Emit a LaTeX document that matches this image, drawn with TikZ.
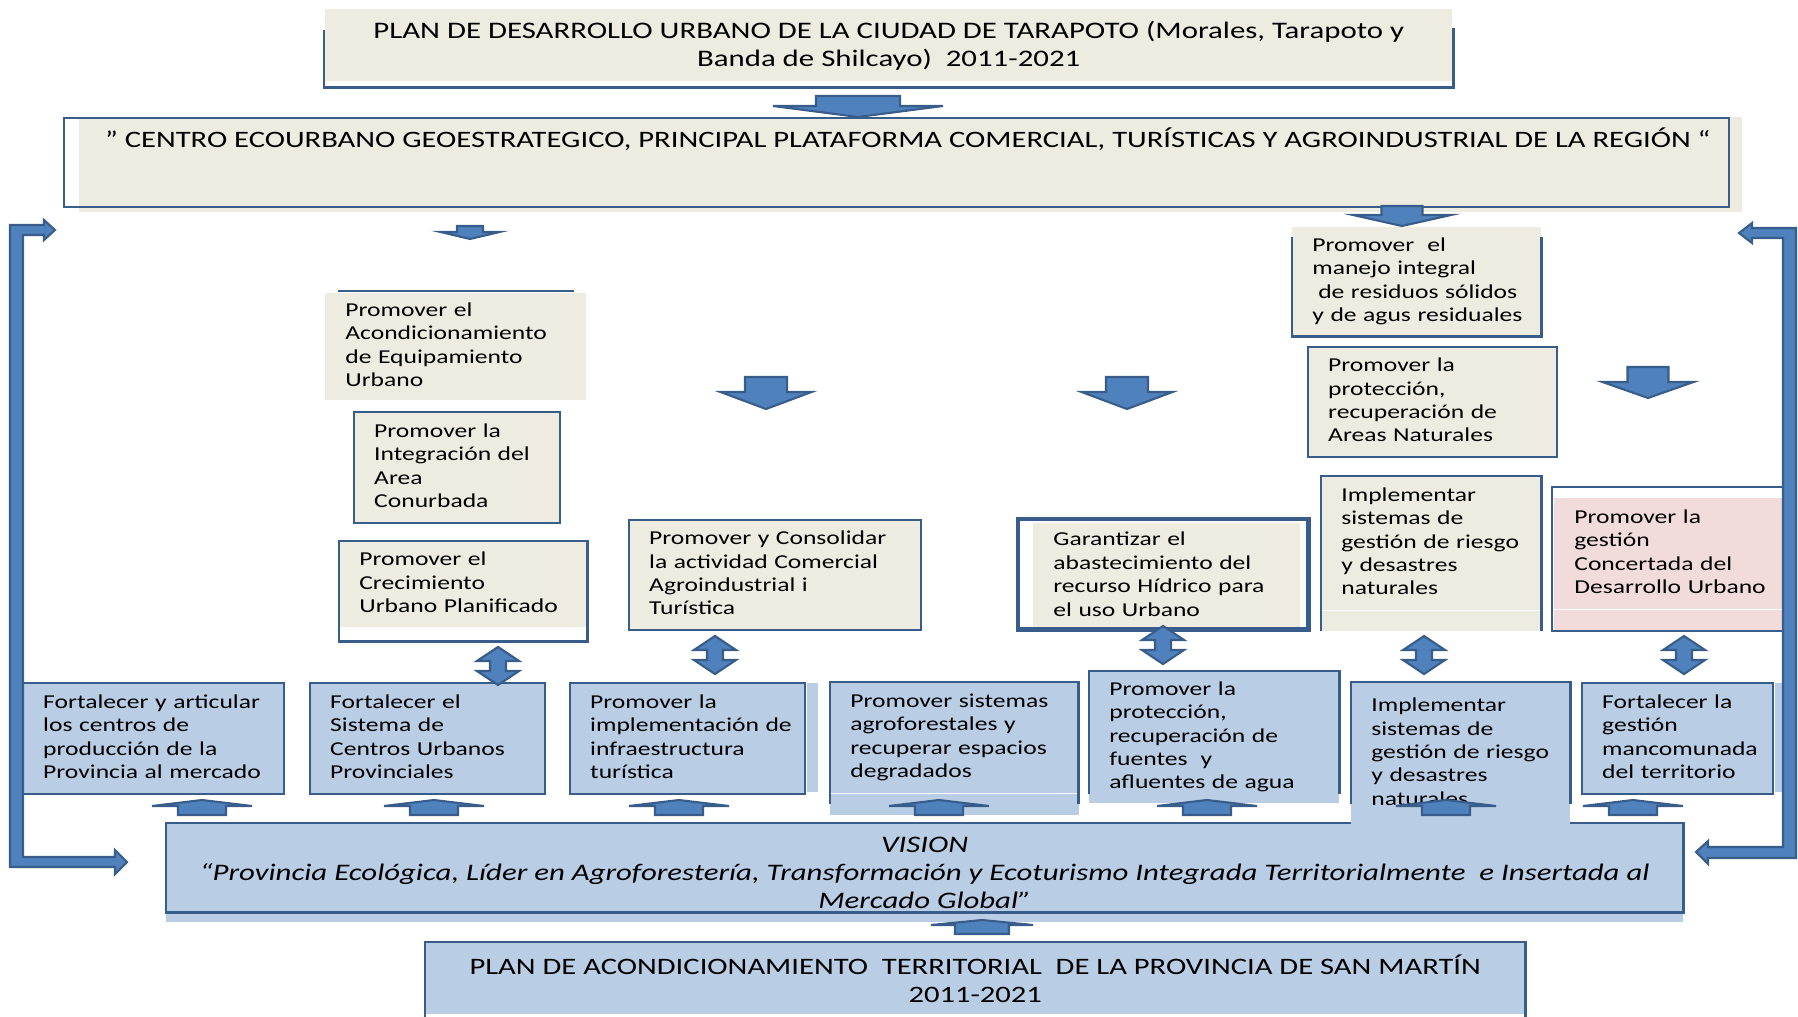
\documentclass[tikz,border=0pt]{standalone}
\usepackage{fontspec}
\setmainfont{Carlito}[FakeStretch=1.3]
\usetikzlibrary{calc}
\definecolor{cream}{HTML}{EEECE1}
\definecolor{skyfill}{HTML}{B9CDE5}
\definecolor{rosefill}{HTML}{F2DCDB}
\definecolor{edgeblue}{HTML}{385D8A}
\definecolor{arrowblue}{HTML}{4F81BD}
\newcommand{\lineas}[1]{\begin{tabular}{@{}l@{}}#1\end{tabular}}

\tikzset{
  blk/.style={fill=arrowblue, draw=edgeblue, line width=1.2pt},
  pics/dnblk/.style args={#1/#2/#3/#4}{code={%
    \filldraw[blk] ({-#2/2},0) -- ({#2/2},0) -- ({#2/2},#3) -- ({#1/2},#3)
      -- (0,{#3+#4}) -- ({-#1/2},#3) -- ({-#2/2},#3) -- cycle;}},
  pics/upblk/.style args={#1/#2/#3/#4}{code={%
    \filldraw[blk] ({-#2/2},0) -- ({-#2/2},-#3) -- ({-#1/2},-#3)
      -- (0,{-#3-#4}) -- ({#1/2},-#3) -- ({#2/2},-#3) -- ({#2/2},0) -- cycle;}},
  pics/dblblk/.style args={#1/#2/#3/#4}{code={%
    \filldraw[blk] (0,{-#3/2}) -- ({#1/2},{-#3/2+#4}) -- ({#2/2},{-#3/2+#4})
      -- ({#2/2},{#3/2-#4}) -- ({#1/2},{#3/2-#4}) -- (0,{#3/2})
      -- ({-#1/2},{#3/2-#4}) -- ({-#2/2},{#3/2-#4}) -- ({-#2/2},{-#3/2+#4})
      -- ({-#1/2},{-#3/2+#4}) -- cycle;}},
}

\begin{document}
\begin{tikzpicture}[x=0.02cm, y=-0.02cm,
    font=\fontsize{11.2}{13.3}\selectfont,
    edge/.style={draw=edgeblue, line width=1.4pt},
    topbox/.style={fill=cream, anchor=north west, inner xsep=0.4cm, inner ysep=0pt, align=left},
    lowbox/.style={fill=skyfill, anchor=north west, inner xsep=0.4cm, inner ysep=0pt, align=left}]
  \useasboundingbox (0,0) rectangle (1798,1017);

  % planes y vision urbana
  \fill[cream] (79,117) rectangle (1742,212);
  \node[fill=cream, anchor=north west, inner sep=0pt, align=center,
        font=\fontsize{13.5}{16}\selectfont,
        minimum width=22.54cm, minimum height=1.44cm] (pdu) at (325,9)
        {PLAN DE DESARROLLO URBANO DE LA CIUDAD DE TARAPOTO (Morales, Tarapoto y\\
         Banda de Shilcayo)\ \ 2011-2021};
  \draw[edge] ([shift={(-1,21)}]pdu.north west) |- ([shift={(1,6)}]pdu.south east)
        -- ([shift={(1,19)}]pdu.north east);
  \node[edge, anchor=north west, inner sep=0pt, minimum width=33.3cm,
        text height=0.59cm, text depth=1.19cm, font=\fontsize{13.4}{16}\selectfont]
        (ecou) at (63,117)
        {\hspace*{0.45cm}” CENTRO ECOURBANO GEOESTRATEGICO, PRINCIPAL PLATAFORMA COMERCIAL, TURÍSTICAS Y AGROINDUSTRIAL DE LA REGIÓN “};

  % objetivos urbanos
  \node[topbox, minimum width=5.22cm, minimum height=2.14cm, text width=4.42cm] (equip) at (325,293)
        {\lineas{Promover el\\Acondicionamiento\\de Equipamiento\\Urbano}};
  \draw[edge] ([shift={(13,-2)}]equip.north west) -- ([shift={(-13,-2)}]equip.north east);
  \node[topbox, edge, minimum width=4.12cm, minimum height=2.22cm, text width=3.32cm] (conurb) at (353,411)
        {\lineas{Promover la\\Integración del\\Area\\Conurbada}};
  \node[topbox, minimum width=4.96cm, minimum height=1.72cm, text width=4.16cm] (crec) at (339,541)
        {\lineas{Promover el\\Crecimiento\\Urbano Planificado}};
  \draw[edge] (crec.north west) rectangle ([shift={(0,14)}]crec.south east);
  \node[topbox, edge, minimum width=5.84cm, minimum height=2.2cm, text width=5.04cm] (comer) at (628,519)
        {\lineas{Promover y Consolidar\\la actividad Comercial\\Agroindustrial i\\Turística}};
  \node[topbox, minimum width=5.34cm, minimum height=2.12cm, text width=4.54cm] (hidr) at (1033,523)
        {\lineas{Garantizar el\\abastecimiento del\\recurso Hídrico para\\el uso Urbano}};
  \draw[edge, line width=2.6pt] ([shift={(-15,-4)}]hidr.north west)
        rectangle ([shift={(8,0)}]hidr.south east);
  \node[topbox, minimum width=4.98cm, minimum height=2.18cm, text width=4.18cm] (resid) at (1292,227)
        {\lineas{Promover\ \ el\\manejo integral\\\hspace*{0.3em}de residuos sólidos\\y de agus residuales}};
  \draw[edge] ([shift={(0,10)}]resid.north west) |- (resid.south east)
        -- ([shift={(0,10)}]resid.north east);
  \node[topbox, edge, minimum width=4.98cm, minimum height=2.2cm, text width=4.18cm] (areas) at (1307,346)
        {\lineas{Promover la\\protección,\\recuperación de\\Areas Naturales}};
  \node[topbox, minimum width=4.4cm, minimum height=2.68cm, text width=3.6cm] (riesgo) at (1321,476)
        {\lineas{Implementar\\sistemas de\\gestión de riesgo\\y desastres\\naturales}};
  \fill[cream] (riesgo.south west) rectangle ([shift={(0,20)}]riesgo.south east);
  \draw[edge] ([shift={(0,20)}]riesgo.south west) |- (riesgo.north east)
        -- ([shift={(0,20)}]riesgo.south east);
  \node[topbox, fill=rosefill, minimum width=4.58cm, minimum height=2.22cm, text width=3.78cm] (concert) at (1554,498)
        {\lineas{Promover la\\gestión\\Concertada del\\Desarrollo Urbano}};
  \fill[rosefill] (concert.south west) rectangle ([shift={(0,21)}]concert.south east);
  \draw[edge, line width=1pt] ([shift={(-2,-11)}]concert.north west)
        rectangle ([shift={(2,21)}]concert.south east);

  % vision provincial
  \node[fill=skyfill, anchor=north west, inner sep=0pt, align=center,
        minimum width=30.34cm, minimum height=1.98cm,
        font=\fontsize{13.5}{15.9}\selectfont\itshape] (vision) at (166,823)
        {VISION\\“Provincia Ecológica, Líder en Agroforestería, Transformación y Ecoturismo Integrada Territorialmente\ \ e Insertada al\\Mercado Global”};
  \draw[edge] (vision.north west) rectangle ([shift={(0,-10)}]vision.south east);

  % objetivos provinciales
  \node[lowbox, edge, minimum width=5.22cm, minimum height=2.22cm, text width=4.42cm] (prod) at (22,682)
        {\lineas{Fortalecer y articular\\los centros de\\producción de la\\Provincia al mercado}};
  \node[lowbox, edge, minimum width=4.7cm, minimum height=2.22cm, text width=3.9cm] (ciud) at (309,682)
        {\lineas{Fortalecer el\\Sistema de\\Centros Urbanos\\Provinciales}};
  \node[lowbox, edge, minimum width=4.7cm, minimum height=2.22cm, text width=3.9cm] (turis) at (569,682)
        {\lineas{Promover la\\implementación de\\infraestructura\\turística}};
  \fill[skyfill] ([shift={(1,1)}]turis.north east) rectangle ([shift={(12,-3)}]turis.south east);
  \node[lowbox, minimum width=4.96cm, minimum height=2.22cm, text width=4.16cm] (agro) at (830,682)
        {\lineas{Promover sistemas\\agroforestales y\\recuperar espacios\\degradados}};
  \fill[skyfill] (agro.south west) rectangle ([shift={(0,21)}]agro.south east);
  \draw[edge] ([shift={(0,10)}]agro.south west) |- (agro.north east)
        -- ([shift={(0,10)}]agro.south east);
  \node[lowbox, minimum width=5cm, minimum height=2.64cm, text width=4.2cm] (fuent) at (1089,671)
        {\lineas{Promover la\\protección,\\recuperación de\\fuentes\ \ y\\afluentes de agua}};
  \draw[edge] ([shift={(0,-10)}]fuent.south west) |- (fuent.north east)
        -- ([shift={(0,-10)}]fuent.south east);
  \node[lowbox, minimum width=4.38cm, minimum height=2.86cm, text width=3.58cm] (riesgop) at (1351,682)
        {\lineas{Implementar\\sistemas de\\gestión de riesgo\\y desastres\\naturales}};
  \draw[edge] ([shift={(0,-22)}]riesgop.south west) |- (riesgop.north east)
        -- ([shift={(0,-22)}]riesgop.south east);
  \node[lowbox, edge, minimum width=3.82cm, minimum height=2.22cm, text width=3.02cm] (manc) at (1581,682)
        {\lineas{Fortalecer la\\gestión\\mancomunada\\del territorio}};
  \fill[skyfill] ([shift={(1,1)}]manc.north east) rectangle ([shift={(10,-3)}]manc.south east);

  % plan provincial
  \node[fill=skyfill, anchor=north west, inner sep=0pt, align=center,
        font=\fontsize{13.4}{16}\selectfont,
        minimum width=22cm, minimum height=1.44cm] (pat) at (425,942)
        {PLAN DE ACONDICIONAMIENTO\ \ TERRITORIAL\ \ DE LA PROVINCIA DE SAN MARTÍN\\2011-2021};
  \draw[edge] ([shift={(0,20)}]pat.south west) |- (pat.north east)
        -- ([shift={(0,20)}]pat.south east);

  % flechas de bloque
  \pic at (858,96) {dnblk=170/84/10/11};
  \pic at (470,226) {dnblk=59/26/6/7};
  \pic at (1402,206) {dnblk=98/41/9/11};
  \pic at (766,377) {dnblk=91/42/15/17};
  \pic at (1127,377) {dnblk=91/42/15/17};
  \pic at (1648,367) {dnblk=91/41/15/16};
  \pic at (498,666) {dblblk=42/16/38/14};
  \pic at (715,655) {dblblk=42/16/38/14};
  \pic at (1163,645) {dblblk=42/16/38/14};
  \pic at (1424,655) {dblblk=42/16/38/14};
  \pic at (1684,655) {dblblk=42/16/38/14};
  \foreach \ax in {202,434,679,939,1207,1446,1633}
    \pic at (\ax,815) {upblk=100/48/9/6};
  \pic at (982,934) {upblk=102/54/9/5};

  % retroalimentacion
  \filldraw[blk] (10,225) -- (44,225) -- (44,220) -- (55,230) -- (44,240) -- (44,235)
    -- (23,235) -- (23,857) -- (115,857) -- (115,850) -- (127,862) -- (115,874)
    -- (115,867) -- (10,867) -- cycle;
  \filldraw[blk] (1796,228) -- (1752,228) -- (1752,223) -- (1739,233) -- (1752,243)
    -- (1752,238) -- (1783,238) -- (1783,847) -- (1708,847) -- (1708,841)
    -- (1696,852) -- (1708,864) -- (1708,858) -- (1796,858) -- cycle;
\end{tikzpicture}
\end{document}
